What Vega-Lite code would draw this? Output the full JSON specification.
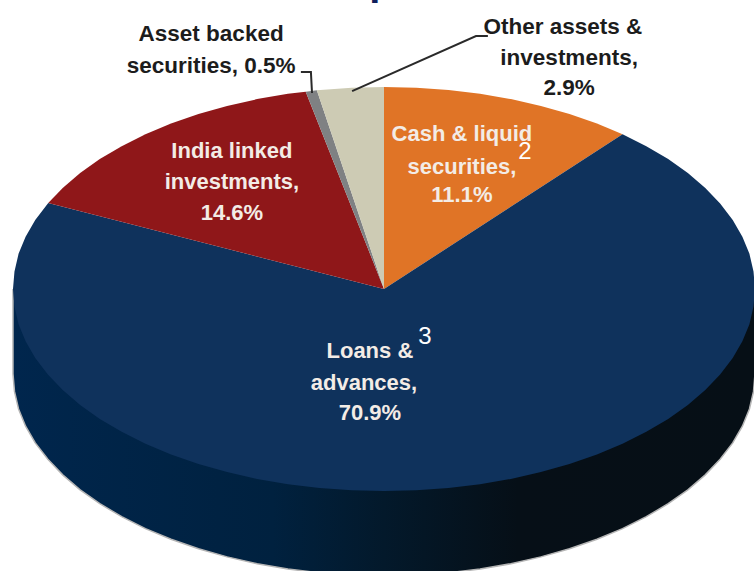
{"$schema":"https://vega.github.io/schema/vega-lite/v6.json","width":754,"height":571,"padding":0,"autosize":{"type":"none"},"background":"white","view":{"stroke":null},
"encoding":{"x":{"field":"x","type":"quantitative","scale":{"domain":[-103.5,99.73],"nice":false,"zero":false},"axis":null},"y":{"field":"y","type":"quantitative","scale":{"domain":[-139.6,143.07],"nice":false,"zero":false},"axis":null}},
"datasets":{
"wall":[{"step":0,"x":100,"y":0},{"step":1,"x":100,"y":-42},{"step":2,"x":99.6,"y":-50.7},{"step":3,"x":98.5,"y":-59.4},{"step":4,"x":96.6,"y":-67.9},{"step":5,"x":94,"y":-76.2},{"step":6,"x":90.6,"y":-84.3},{"step":7,"x":86.6,"y":-92},{"step":8,"x":81.9,"y":-99.4},{"step":9,"x":76.6,"y":-106.3},{"step":10,"x":70.7,"y":-112.7},{"step":11,"x":64.3,"y":-118.6},{"step":12,"x":57.4,"y":-123.9},{"step":13,"x":50,"y":-128.6},{"step":14,"x":42.3,"y":-132.6},{"step":15,"x":34.2,"y":-136},{"step":16,"x":25.9,"y":-138.6},{"step":17,"x":17.4,"y":-140.5},{"step":18,"x":8.7,"y":-141.6},{"step":19,"x":0,"y":-142},{"step":20,"x":-8.7,"y":-141.6},{"step":21,"x":-17.4,"y":-140.5},{"step":22,"x":-25.9,"y":-138.6},{"step":23,"x":-34.2,"y":-136},{"step":24,"x":-42.3,"y":-132.6},{"step":25,"x":-50,"y":-128.6},{"step":26,"x":-57.4,"y":-123.9},{"step":27,"x":-64.3,"y":-118.6},{"step":28,"x":-70.7,"y":-112.7},{"step":29,"x":-76.6,"y":-106.3},{"step":30,"x":-81.9,"y":-99.4},{"step":31,"x":-86.6,"y":-92},{"step":32,"x":-90.6,"y":-84.3},{"step":33,"x":-94,"y":-76.2},{"step":34,"x":-96.6,"y":-67.9},{"step":35,"x":-98.5,"y":-59.4},{"step":36,"x":-99.6,"y":-50.7},{"step":37,"x":-100,"y":-42},{"step":38,"x":-100,"y":0}],
"slices":[
{"slice":"Cash & liquid securities","share":11.1,"step":0,"x":0,"y":0},{"slice":"Cash & liquid securities","share":11.1,"step":1,"x":0,"y":100},{"slice":"Cash & liquid securities","share":11.1,"step":2,"x":8.7,"y":99.6},{"slice":"Cash & liquid securities","share":11.1,"step":3,"x":17.4,"y":98.5},{"slice":"Cash & liquid securities","share":11.1,"step":4,"x":25.9,"y":96.6},{"slice":"Cash & liquid securities","share":11.1,"step":5,"x":34.2,"y":94},{"slice":"Cash & liquid securities","share":11.1,"step":6,"x":42.3,"y":90.6},{"slice":"Cash & liquid securities","share":11.1,"step":7,"x":50,"y":86.6},{"slice":"Cash & liquid securities","share":11.1,"step":8,"x":57.4,"y":81.9},{"slice":"Cash & liquid securities","share":11.1,"step":9,"x":64.3,"y":76.6},
{"slice":"Loans & advances","share":70.9,"step":0,"x":0,"y":0},{"slice":"Loans & advances","share":70.9,"step":1,"x":64.3,"y":76.6},{"slice":"Loans & advances","share":70.9,"step":2,"x":70.7,"y":70.7},{"slice":"Loans & advances","share":70.9,"step":3,"x":76.6,"y":64.3},{"slice":"Loans & advances","share":70.9,"step":4,"x":81.9,"y":57.4},{"slice":"Loans & advances","share":70.9,"step":5,"x":86.6,"y":50},{"slice":"Loans & advances","share":70.9,"step":6,"x":90.6,"y":42.3},{"slice":"Loans & advances","share":70.9,"step":7,"x":94,"y":34.2},{"slice":"Loans & advances","share":70.9,"step":8,"x":96.6,"y":25.9},{"slice":"Loans & advances","share":70.9,"step":9,"x":98.5,"y":17.4},{"slice":"Loans & advances","share":70.9,"step":10,"x":99.6,"y":8.7},{"slice":"Loans & advances","share":70.9,"step":11,"x":100,"y":0},{"slice":"Loans & advances","share":70.9,"step":12,"x":99.6,"y":-8.7},{"slice":"Loans & advances","share":70.9,"step":13,"x":98.5,"y":-17.4},{"slice":"Loans & advances","share":70.9,"step":14,"x":96.6,"y":-25.9},{"slice":"Loans & advances","share":70.9,"step":15,"x":94,"y":-34.2},{"slice":"Loans & advances","share":70.9,"step":16,"x":90.6,"y":-42.3},{"slice":"Loans & advances","share":70.9,"step":17,"x":86.6,"y":-50},{"slice":"Loans & advances","share":70.9,"step":18,"x":81.9,"y":-57.4},{"slice":"Loans & advances","share":70.9,"step":19,"x":76.6,"y":-64.3},{"slice":"Loans & advances","share":70.9,"step":20,"x":70.7,"y":-70.7},{"slice":"Loans & advances","share":70.9,"step":21,"x":64.3,"y":-76.6},{"slice":"Loans & advances","share":70.9,"step":22,"x":57.4,"y":-81.9},{"slice":"Loans & advances","share":70.9,"step":23,"x":50,"y":-86.6},{"slice":"Loans & advances","share":70.9,"step":24,"x":42.3,"y":-90.6},{"slice":"Loans & advances","share":70.9,"step":25,"x":34.2,"y":-94},{"slice":"Loans & advances","share":70.9,"step":26,"x":25.9,"y":-96.6},{"slice":"Loans & advances","share":70.9,"step":27,"x":17.4,"y":-98.5},{"slice":"Loans & advances","share":70.9,"step":28,"x":8.7,"y":-99.6},{"slice":"Loans & advances","share":70.9,"step":29,"x":0,"y":-100},{"slice":"Loans & advances","share":70.9,"step":30,"x":-8.7,"y":-99.6},{"slice":"Loans & advances","share":70.9,"step":31,"x":-17.4,"y":-98.5},{"slice":"Loans & advances","share":70.9,"step":32,"x":-25.9,"y":-96.6},{"slice":"Loans & advances","share":70.9,"step":33,"x":-34.2,"y":-94},{"slice":"Loans & advances","share":70.9,"step":34,"x":-42.3,"y":-90.6},{"slice":"Loans & advances","share":70.9,"step":35,"x":-50,"y":-86.6},{"slice":"Loans & advances","share":70.9,"step":36,"x":-57.4,"y":-81.9},{"slice":"Loans & advances","share":70.9,"step":37,"x":-64.3,"y":-76.6},{"slice":"Loans & advances","share":70.9,"step":38,"x":-70.7,"y":-70.7},{"slice":"Loans & advances","share":70.9,"step":39,"x":-76.6,"y":-64.3},{"slice":"Loans & advances","share":70.9,"step":40,"x":-81.9,"y":-57.4},{"slice":"Loans & advances","share":70.9,"step":41,"x":-86.6,"y":-50},{"slice":"Loans & advances","share":70.9,"step":42,"x":-90.6,"y":-42.3},{"slice":"Loans & advances","share":70.9,"step":43,"x":-94,"y":-34.2},{"slice":"Loans & advances","share":70.9,"step":44,"x":-96.6,"y":-25.9},{"slice":"Loans & advances","share":70.9,"step":45,"x":-98.5,"y":-17.4},{"slice":"Loans & advances","share":70.9,"step":46,"x":-99.6,"y":-8.7},{"slice":"Loans & advances","share":70.9,"step":47,"x":-100,"y":0},{"slice":"Loans & advances","share":70.9,"step":48,"x":-99.6,"y":8.7},{"slice":"Loans & advances","share":70.9,"step":49,"x":-98.5,"y":17.4},{"slice":"Loans & advances","share":70.9,"step":50,"x":-96.6,"y":25.9},{"slice":"Loans & advances","share":70.9,"step":51,"x":-94,"y":34.2},{"slice":"Loans & advances","share":70.9,"step":52,"x":-90.6,"y":42.3},{"slice":"Loans & advances","share":70.9,"step":53,"x":-90.5,"y":42.6},
{"slice":"India linked investments","share":14.6,"step":0,"x":0,"y":0},{"slice":"India linked investments","share":14.6,"step":1,"x":-90.5,"y":42.6},{"slice":"India linked investments","share":14.6,"step":2,"x":-86.6,"y":50},{"slice":"India linked investments","share":14.6,"step":3,"x":-81.9,"y":57.4},{"slice":"India linked investments","share":14.6,"step":4,"x":-76.6,"y":64.3},{"slice":"India linked investments","share":14.6,"step":5,"x":-70.7,"y":70.7},{"slice":"India linked investments","share":14.6,"step":6,"x":-64.3,"y":76.6},{"slice":"India linked investments","share":14.6,"step":7,"x":-57.4,"y":81.9},{"slice":"India linked investments","share":14.6,"step":8,"x":-50,"y":86.6},{"slice":"India linked investments","share":14.6,"step":9,"x":-42.3,"y":90.6},{"slice":"India linked investments","share":14.6,"step":10,"x":-34.2,"y":94},{"slice":"India linked investments","share":14.6,"step":11,"x":-25.9,"y":96.6},{"slice":"India linked investments","share":14.6,"step":12,"x":-21.1,"y":97.7},
{"slice":"Asset backed securities","share":0.5,"step":0,"x":0,"y":0},{"slice":"Asset backed securities","share":0.5,"step":1,"x":-21.1,"y":97.7},{"slice":"Asset backed securities","share":0.5,"step":2,"x":-18.1,"y":98.4},
{"slice":"Other assets & investments","share":2.9,"step":0,"x":0,"y":0},{"slice":"Other assets & investments","share":2.9,"step":1,"x":-18.1,"y":98.4},{"slice":"Other assets & investments","share":2.9,"step":2,"x":-8.7,"y":99.6},{"slice":"Other assets & investments","share":2.9,"step":3,"x":0,"y":100}],
"leaders":[{"leader":"abs","step":0,"x":-22.4,"y":107.4},{"leader":"abs","step":1,"x":-19.7,"y":107.4},{"leader":"abs","step":2,"x":-19.4,"y":97},{"leader":"other","step":0,"x":-8.6,"y":98},{"leader":"other","step":1,"x":24.8,"y":125.2},{"leader":"other","step":2,"x":28,"y":125.2}]
},
"layer":[
{"data":{"name":"wall"},"mark":{"type":"line","stroke":"#b5b5b5","strokeWidth":1.5,"fill":{"gradient":"linear","x1":0,"y1":0,"x2":1,"y2":0,"stops":[{"offset":0,"color":"#00264d"},{"offset":0.35,"color":"#00213f"},{"offset":0.5,"color":"#03192b"},{"offset":0.68,"color":"#060f17"},{"offset":1,"color":"#060f16"}]}},"encoding":{"order":{"field":"step"}}},
{"data":{"name":"slices"},"mark":{"type":"line","filled":true,"strokeWidth":0.5},"encoding":{"order":{"field":"step"},"detail":{"field":"slice"},"fill":{"field":"slice","type":"nominal","legend":null,"scale":{"domain":["Cash & liquid securities","Loans & advances","India linked investments","Asset backed securities","Other assets & investments"],"range":["#e07426","#0f325c","#8f1719","#7f8183","#cdcbb4"]}},"tooltip":{"field":"share"}}},
{"data":{"name":"leaders"},"mark":{"type":"line","stroke":"#2a2a2a","strokeWidth":2},"encoding":{"detail":{"field":"leader"},"order":{"field":"step"}}},
{"data":{"values":[{"label":"Asset backed","x":-46.6,"y":126.2},{"label":"securities, 0.5%","x":-46.6,"y":110.4},{"label":"Other assets &","x":48.2,"y":129.7},{"label":"investments,","x":49.9,"y":114.4},{"label":"2.9%","x":49.9,"y":99.5}]},"mark":{"type":"text","font":"Liberation Sans","fontWeight":"bold","fontSize":22.5,"fill":"#1c1c1c","align":"center","baseline":"middle"},"encoding":{"text":{"field":"label"}}},
{"data":{"values":[{"label":"Cash & liquid","x":21,"y":76.7},{"label":"securities,","x":21,"y":60.4},{"label":"11.1%","x":21,"y":46.5},{"label":"India linked","x":-41,"y":68.3},{"label":"investments,","x":-41,"y":53},{"label":"14.6%","x":-41,"y":37.6},{"label":"Loans &","x":-3.8,"y":-30.7},{"label":"advances,","x":-5.4,"y":-46.5},{"label":"70.9%","x":-3.8,"y":-61.3}]},"mark":{"type":"text","font":"Liberation Sans","fontWeight":"bold","fontSize":22,"fill":"#f3ece6","align":"center","baseline":"middle"},"encoding":{"text":{"field":"label"}}},
{"data":{"values":[{"label":"2","x":38,"y":67.8},{"label":"3","x":11,"y":-23.8}]},"mark":{"type":"text","font":"Liberation Sans","fontSize":24,"fill":"white","align":"center","baseline":"middle"},"encoding":{"text":{"field":"label"}}},
{"data":{"values":[{"label":"p","x":-4,"y":145.5}]},"mark":{"type":"text","font":"Liberation Sans","fontWeight":"bold","fontSize":40,"fill":"#0f1f5c","align":"left","baseline":"alphabetic"},"encoding":{"text":{"field":"label"}}}
]}
